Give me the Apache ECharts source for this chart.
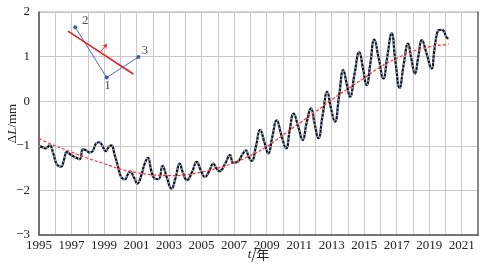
<!DOCTYPE html>
<html><head><meta charset="utf-8">
<script src="https://cdn.jsdelivr.net/npm/echarts@6/dist/echarts.min.js"></script>
<style>html,body{margin:0;padding:0;background:#fff}#c{width:488px;height:267px}</style>
</head><body><div id="c"></div>
<script>
// Observed series: decimal year, ΔL (mm)
const obsT = [1995.0,1995.2,1995.4,1995.65,1995.9,1996.1,1996.35,1996.55,1996.7,1996.95,1997.2,1997.5,1997.7,1997.9,1998.1,1998.3,1998.5,1998.7,1998.9,1999.1,1999.25,1999.45,1999.65,1999.85,2000.05,2000.3,2000.45,2000.6,2000.85,2001.05,2001.3,2001.5,2001.7,2001.9,2002.1,2002.35,2002.6,2002.85,2003.15,2003.4,2003.65,2003.85,2004.1,2004.4,2004.7,2004.95,2005.2,2005.45,2005.72,2005.9,2006.1,2006.45,2006.75,2006.95,2007.25,2007.5,2007.72,2007.9,2008.08,2008.35,2008.6,2008.85,2009.1,2009.35,2009.62,2009.9,2010.2,2010.42,2010.66,2010.95,2011.22,2011.45,2011.73,2011.95,2012.18,2012.45,2012.73,2012.95,2013.2,2013.45,2013.72,2013.92,2014.13,2014.4,2014.7,2014.92,2015.15,2015.38,2015.62,2015.9,2016.18,2016.42,2016.69,2016.92,2017.18,2017.42,2017.7,2017.9,2018.12,2018.33,2018.55,2018.85,2019.15,2019.3,2019.5,2019.66,2019.85,2020.05,2020.18];
const obsV = [-1.0,-1.03,-1.06,-0.99,-1.2,-1.42,-1.47,-1.3,-1.14,-1.2,-1.25,-1.3,-1.08,-1.1,-1.15,-1.12,-0.95,-0.92,-1.0,-1.12,-1.05,-0.99,-1.2,-1.45,-1.7,-1.75,-1.65,-1.58,-1.72,-1.85,-1.65,-1.4,-1.27,-1.55,-1.73,-1.75,-1.45,-1.7,-1.96,-1.72,-1.4,-1.6,-1.77,-1.6,-1.36,-1.55,-1.7,-1.58,-1.4,-1.5,-1.57,-1.4,-1.21,-1.38,-1.35,-1.2,-1.1,-1.25,-1.34,-1.0,-0.64,-0.9,-1.17,-0.8,-0.43,-0.75,-1.06,-0.65,-0.28,-0.58,-0.87,-0.5,-0.16,-0.5,-0.83,-0.3,0.21,-0.15,-0.46,0.1,0.7,0.4,0.1,0.6,1.1,0.75,0.36,0.85,1.38,0.95,0.51,1.0,1.52,0.9,0.3,0.8,1.29,0.95,0.62,1.0,1.37,1.05,0.73,1.1,1.55,1.6,1.59,1.44,1.4];
// Fitted trend (red dashed)
const fitT = [1995,1996,1997,1998,1999,2000,2001,2002,2003,2004,2005,2006,2007,2008,2009,2010,2011,2012,2013,2014,2015,2016,2017,2018,2019,2020,2020.2];
const fitV = [-0.84,-1.0,-1.14,-1.28,-1.4,-1.52,-1.6,-1.65,-1.67,-1.65,-1.59,-1.5,-1.38,-1.22,-1.02,-0.76,-0.5,-0.24,0.03,0.28,0.52,0.77,0.96,1.12,1.22,1.27,1.28];
// Inset schematic (in axis units)
const schemT = [1997.23,1999.16,2001.11];
const schemV = [1.66,0.53,0.99];
const schemLabels = ['2','1','3'];
const labelT = [1997.85,1999.22,2001.5];
const labelV = [1.8,0.36,1.14];
const redLineT = [1996.78,2000.8];
const redLineV = [1.57,0.61];
const arrowT = [1998.8,1999.18];
const arrowV = [1.12,1.28];
const yTicks = [-3,-2,-1,0,1,2];

const obs = obsT.map((t,i)=>[t,obsV[i]]);
const fit = fitT.map((t,i)=>[t,fitV[i]]);
const serif = '"Liberation Serif","Times New Roman",serif';
const chart = echarts.init(document.getElementById('c'));
chart.setOption({
  animation:false,
  grid:{left:39,right:10,top:12,bottom:32,show:true,borderColor:'#aaa',borderWidth:1,outerBoundsMode:'none',containLabel:false},
  xAxis:{type:'value',min:1995,max:2022,interval:1,
    axisLine:{show:true,onZero:false,lineStyle:{color:'#555',width:1.5}},
    axisTick:{show:false},
    splitLine:{show:true,lineStyle:{color:'#c8c8c8',width:1}},
    axisLabel:{fontFamily:serif,fontSize:13,color:'#222',margin:4,
      formatter:v=>(Math.round(v)%2===1?String(Math.round(v)):'')},
    name:'{i|t}{a|/年}',nameLocation:'middle',nameGap:13,nameMoveOverlap:false,
    nameTextStyle:{rich:{i:{fontFamily:serif,fontStyle:'italic',fontSize:13,color:'#222'},a:{fontFamily:'"Noto Sans CJK SC",'+serif,fontSize:13,color:'#222'}}}
  },
  yAxis:[{type:'value',min:-3,max:2,interval:1,
    axisLine:{show:true,onZero:false,lineStyle:{color:'#555',width:1.5}},
    axisTick:{show:false},
    splitLine:{show:true,lineStyle:{color:'#c8c8c8',width:1}},
    axisLabel:{fontFamily:serif,fontSize:13,color:'#222',margin:9,
      formatter:v=>(v<0?'\u2212'+Math.abs(v):String(v))},
    name:'{a|Δ}{i|L}{a|/mm}',nameLocation:'middle',nameGap:20,nameRotate:90,nameMoveOverlap:false,
    nameTextStyle:{rich:{i:{fontFamily:serif,fontStyle:'italic',fontSize:13,color:'#222'},a:{fontFamily:serif,fontSize:13,color:'#222'}}}
  },{type:'value',min:-3,max:2,interval:1,position:'right',
    axisLine:{show:true,lineStyle:{color:'#888',width:2}},axisTick:{show:false},axisLabel:{show:false},splitLine:{show:false}}],
  series:[
    {type:'line',data:obs,smooth:0.5,symbol:'none',lineStyle:{color:'#111',width:2.2},z:3},
    {type:'line',data:obs,smooth:0.5,symbol:'none',lineStyle:{color:'#8ea8cc',width:2,type:[1.5,2.5]},z:4},
    {type:'line',data:fit,smooth:true,symbol:'none',lineStyle:{color:'#ff3030',width:1.2,type:[3,2]},z:5},
    {type:'line',data:schemT.map((t,i)=>[t,schemV[i]]),symbol:'circle',symbolSize:4,
      itemStyle:{color:'#3b5ea8'},lineStyle:{color:'#4a6cb8',width:1},z:6},
    {type:'line',data:redLineT.map((t,i)=>[t,redLineV[i]]),symbol:'none',lineStyle:{color:'#e8202a',width:1.6},z:7},
    {type:'lines',coordinateSystem:'cartesian2d',symbol:['none','arrow'],symbolSize:4,
      data:[{coords:arrowT.map((t,i)=>[t,arrowV[i]])}],lineStyle:{color:'#e8202a',width:1,opacity:1},z:8},
    {type:'scatter',symbolSize:0,data:labelT.map((t,i)=>({value:[t,labelV[i]],name:schemLabels[i]})),
      label:{show:true,position:'inside',formatter:p=>p.name,fontFamily:serif,fontSize:13,color:'#222'},z:9}
  ]
});
</script></body></html>
